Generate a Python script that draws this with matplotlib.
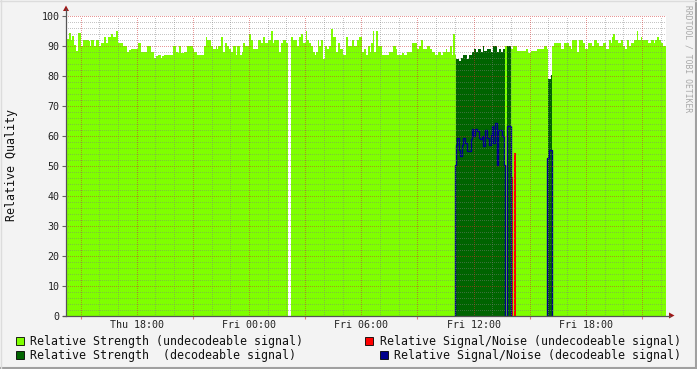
import numpy as np
import matplotlib
matplotlib.use("Agg")
import matplotlib.pyplot as plt
from matplotlib.patches import Rectangle, Polygon
from matplotlib.lines import Line2D

nan = np.nan
# time axis: hours since Thu 00:00
x_start, x_end = 14.22, 46.28

# Relative Strength (undecodeable signal): run start times and values
light_t = [14.22,14.36,14.49,14.54,14.63,14.75,14.86,15.02,15.13,15.43,
           15.52,15.57,15.70,15.81,15.98,16.09,16.23,16.36,16.46,16.64,
           16.72,16.89,17.00,17.25,17.50,17.57,17.71,18.07,18.24,18.56,
           18.75,18.92,19.03,19.14,19.28,19.35,19.46,19.95,20.10,20.20,
           20.27,20.38,20.53,20.70,20.99,21.06,21.24,21.59,21.70,21.77,
           21.95,22.06,22.24,22.29,22.34,22.52,22.59,22.70,22.81,22.91,
           23.05,23.16,23.30,23.37,23.52,23.62,23.69,23.77,23.98,24.12,
           24.23,24.48,24.66,24.76,24.84,25.01,25.19,25.27,25.33,25.59,
           25.69,25.80,25.98,26.08,26.24,26.37,26.58,26.69,26.79,26.90,
           27.04,27.11,27.22,27.33,27.40,27.51,27.58,27.69,27.75,27.86,
           27.97,28.08,28.18,28.29,28.40,28.50,28.65,28.75,28.86,29.01,
           29.18,29.29,29.50,29.61,29.75,29.86,30.04,30.14,30.25,30.36,
           30.46,30.53,30.61,30.68,30.78,30.89,31.10,31.50,31.68,31.85,
           31.92,32.17,32.28,32.46,32.71,32.81,32.96,33.10,33.20,33.31,
           33.49,33.67,33.78,33.95,34.10,34.27,34.38,34.52,34.59,34.74,
           34.85,34.92,34.99,35.06,37.69,37.77,38.00,38.11,38.32,38.80,
           38.91,39.05,39.40,39.76,39.91,39.99,40.19,40.30,40.69,40.83,
           41.11,41.19,41.26,41.54,41.62,41.83,41.94,42.11,42.33,42.43,
           42.61,42.72,42.93,43.07,43.22,43.33,43.39,43.46,43.57,43.72,
           43.86,44.00,44.11,44.21,44.32,44.43,44.57,44.71,44.78,44.93,
           45.00,45.32,45.49,45.64,45.71,45.82,45.89,46.00,46.10]
light_v = [92.2,94.2,92,93.2,90.3,88.3,94.2,90,92,91.5,
           90,92,90,92,90,91,93,91,93,94,
           93,95,91,90,88,88.5,89,91,88,90,
           88,86,86.5,87,86,86.5,87,90,88,87.5,
           90,87.5,88,90,89,88,87,90,93,92,
           90,89,90,89,90,93,88,91,90,89,
           88,90,87,90,87,88,91,90,94,92,
           89,92,91,93,91,92,95,91,92,88,
           91,92,91,nan,93,92,90,93,94,91,
           95,92,91,90,88,87,88,92,90,92,
           85.5,90,89,90,95.5,93,88,91,89,87,
           93,90,92,90,92,93,88,89,87,90,
           88,91,95,88,95,90,87,88,90,89,
           87,87.5,87,88,91,90.8,89,90,92,89,
           90,89,88,87,88,87,88,89,88,90,
           87,94,87,nan,90,nan,89,90,88.3,89,
           87.5,88.3,89,90,89,nan,90,91,89,91,
           90,89,92,88,92,91,89,91,90,92,
           91,90,91,89,92,91,93,94,92,91,
           92,90,89,92,90,91,92,95,92,93,
           92,91,92,91,92,93,92,91,90]

# Relative Strength (decodeable signal)
dark_t = [35.06,35.24,35.34,35.45,35.63,35.74,35.91,36.02,36.13,36.23,
          36.38,36.49,36.56,36.73,36.95,37.02,37.13,37.23,37.34,37.45,
          37.55,37.69,37.77,38.00,39.94,39.99,40.14]
dark_v = [85.5,85,86,87,85.5,87,88,89,88,89,
          88,90,88.3,89,88,90,89.8,88,89,88,
          89,nan,90,nan,52.5,78.7,80.3]
dark_end = 40.19

# Relative Signal/Noise (decodeable signal)
blue_t = [35.01,35.06,35.13,35.20,35.27,35.38,35.45,35.56,35.66,35.84,
          35.91,35.98,36.06,36.17,36.27,36.34,36.45,36.52,36.63,36.73,
          36.81,36.91,36.98,37.05,37.16,37.23,37.25,37.30,37.52,37.62,
          37.69,37.77,38.00,39.94,40.04]
blue_v = [50.3,57,59.2,55.3,53.1,57,59.2,57.6,55,58.7,
          62.2,60,62.2,61.4,59.2,58.7,59.8,56.4,61.8,59.2,
          57,60.3,63.3,57.6,64.2,62.9,50.3,62,59.8,50.3,
          0,63.3,nan,52.5,55.3]
blue_end = 40.19

# Relative Signal/Noise (undecodeable signal)
red_t = [38.04,38.11,38.14,38.27,40.19]
red_v = [46.3,nan,54.2,nan,49.8]
red_end = 40.23

x_tick_pos = [18, 24, 30, 36, 42]
x_tick_labels = ["Thu 18:00", "Fri 00:00", "Fri 06:00", "Fri 12:00", "Fri 18:00"]
y_ticks = list(range(0, 101, 10))

legend_items = [
    ("Relative Strength (undecodeable signal)", "#7FFF00"),
    ("Relative Signal/Noise (undecodeable signal)", "#FF0000"),
    ("Relative Strength  (decodeable signal)", "#006400"),
    ("Relative Signal/Noise (decodeable signal)", "#00008C"),
]

C_LIGHT = "#7FFF00"
C_DARK = "#006400"
C_RED = "#FF0000"
C_BLUE = "#00008C"
MONO = "DejaVu Sans Mono"

W, H = 697, 369
def fx(x): return x / W
def fy(y): return 1 - y / H

fig = plt.figure(figsize=(W / 100, H / 100), dpi=100, facecolor="#F3F3F3")
ax = fig.add_axes([fx(66), fy(315.5), 600 / W, 300 / H])
ax.set_facecolor("white")
ax.set_xlim(x_start, x_end)
ax.set_ylim(0, 100)

ax.stairs(light_v, light_t + [x_end], fill=True, color=C_LIGHT, baseline=0, lw=0, zorder=2)
ax.stairs(dark_v, dark_t + [dark_end], fill=True, color=C_DARK, baseline=0, lw=0, zorder=3)
ax.stairs(red_v, red_t + [red_end], fill=True, color=C_RED, baseline=0, lw=0, zorder=4)
ax.stairs(blue_v, blue_t + [blue_end], fill=False, color=C_BLUE, baseline=0, lw=1.0, zorder=5)

# grid (drawn over the data, rrdtool style)
dot = (0, (1, 2))
minor_y = [v for v in range(2, 101, 2) if v % 10]
major_y = list(range(10, 101, 10))
grid_minor = dict(colors="#808080", linestyles=dot, lw=0.72, alpha=0.45, antialiased=False, zorder=6)
grid_major = dict(colors="#D03030", linestyles=dot, lw=0.72, alpha=0.5, antialiased=False, zorder=7)
ax.hlines(minor_y, x_start, x_end, **grid_minor)
ax.hlines(major_y, x_start, x_end, **grid_major)
hours = np.arange(15, 47)
minor_x = [h for h in hours if h % 3]
major_x = [h for h in hours if h % 3 == 0]
ax.vlines(minor_x, 0, 100, **grid_minor)
ax.vlines(major_x, 0, 100, **grid_major)

for s in ax.spines.values():
    s.set_visible(False)

ax.set_yticks(y_ticks)
ax.set_yticklabels([str(v) for v in y_ticks], fontfamily=MONO, fontsize=7.2, color="#222222")
ax.tick_params(axis="y", length=3, width=0.8, color="#666666", pad=1.5)
ax.set_xticks(x_tick_pos)
ax.set_xticklabels(x_tick_labels, fontfamily=MONO, fontsize=7.2, color="#222222")
ax.tick_params(axis="x", which="major", length=0, pad=3.5)
ax.set_xticks([h for h in major_x if h not in x_tick_pos], minor=True)
ax.tick_params(axis="x", which="minor", length=2, width=0.8, color="#E07A7A")

# axis lines and arrows
fig.add_artist(Line2D([fx(66), fx(66)], [fy(316), fy(9)], color="#555555", lw=0.9))
fig.add_artist(Line2D([fx(63), fx(670)], [fy(315.5), fy(315.5)], color="#555555", lw=0.9))
fig.add_artist(Polygon([(fx(63), fy(11)), (fx(69), fy(11)), (fx(66), fy(5.5))],
                       closed=True, color="#A01818", lw=0))
fig.add_artist(Polygon([(fx(669), fy(312.5)), (fx(669), fy(318.5)), (fx(674.5), fy(315.5))],
                       closed=True, color="#A01818", lw=0))

# y label
fig.text(fx(12), fy(165), "Relative Quality", rotation=90, ha="center", va="center",
         fontfamily=MONO, fontsize=8.4, color="#111111")
# watermark
fig.text(fx(688), fy(5), "RRDTOOL / TOBI OETIKER", rotation=270, ha="center", va="top",
         fontfamily=MONO, fontsize=5.8, color="#A8A8A8")

# legend
def legend_entry(label, color, sq_x, y, text_x, ha):
    fig.add_artist(Rectangle((fx(sq_x), fy(y + 4)), 8 / W, 8 / H, transform=fig.transFigure,
                             facecolor=color, edgecolor="black", lw=0.6))
    fig.text(fx(text_x), fy(y), label, ha=ha, va="center", fontfamily=MONO,
             fontsize=8.4, color="#111111")

legend_entry(legend_items[0][0], legend_items[0][1], 15.5, 341, 30, "left")
legend_entry(legend_items[1][0], legend_items[1][1], 365, 341, 681, "right")
legend_entry(legend_items[2][0], legend_items[2][1], 15.5, 355, 30, "left")
legend_entry(legend_items[3][0], legend_items[3][1], 380, 355, 681, "right")

# frame
fig.add_artist(Line2D([0, 1], [fy(368), fy(368)], color="#A0A0A0", lw=1.5))
fig.add_artist(Line2D([fx(696), fx(696)], [0, 1], color="#A0A0A0", lw=1.5))
fig.add_artist(Line2D([0, 1], [fy(0.5), fy(0.5)], color="#DCDCDC", lw=1.0))
fig.add_artist(Line2D([fx(0.5), fx(0.5)], [0, 1], color="#DCDCDC", lw=1.0))

fig.savefig("out.png", dpi=100, facecolor=fig.get_facecolor())
